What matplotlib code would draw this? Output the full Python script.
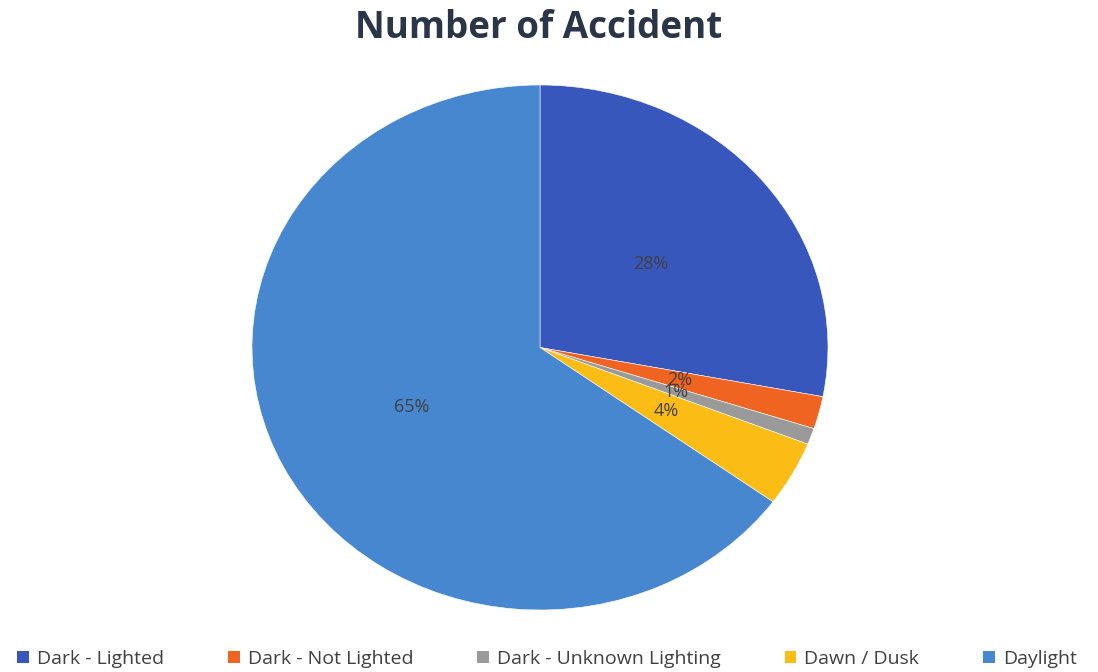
import matplotlib.pyplot as plt
from matplotlib.patches import Patch

# data
labels = ["Dark - Lighted", "Dark - Not Lighted", "Dark - Unknown Lighting", "Dawn / Dusk", "Daylight"]
shares = [28, 2, 1, 4, 65]
colors = ["#3757bc", "#ee6420", "#9a9a9a", "#fbbc16", "#4787d0"]

fig = plt.figure(figsize=(10.98, 6.72), dpi=100)
plt.rcParams['font.family'] = ['Open Sans', 'DejaVu Sans']

# pie axes (slightly stretched horizontally like the reference)
ax = fig.add_axes([252 / 1098, (672 - 610) / 672, 576 / 1098, 525 / 672])
wedges, texts, autotexts = ax.pie(
    shares, colors=colors, startangle=90, counterclock=False,
    autopct="%1.0f%%", pctdistance=0.5,
    wedgeprops=dict(linewidth=0.4, edgecolor="white"),
    textprops=dict(color="#404040", fontsize=13))
ax.set_aspect('auto')
ax.set_xlim(-1, 1)
ax.set_ylim(-1, 1)
ax.axis('off')

fig.text(539 / 1098, 1 - 28 / 672, "Number of Accident", ha="center", va="center",
         fontsize=26.5, fontweight="bold", color="#2b3548")

handles = [Patch(facecolor=c, edgecolor="none") for c in colors]
fig.legend(handles, labels, loc="center", bbox_to_anchor=(547 / 1098, 1 - 659 / 672),
           ncol=5, frameon=False, fontsize=14, labelcolor="#404040",
           handlelength=0.6, handleheight=0.6, handletextpad=0.4, columnspacing=3.3)

plt.savefig("out.png", dpi=100)
plt.close()
